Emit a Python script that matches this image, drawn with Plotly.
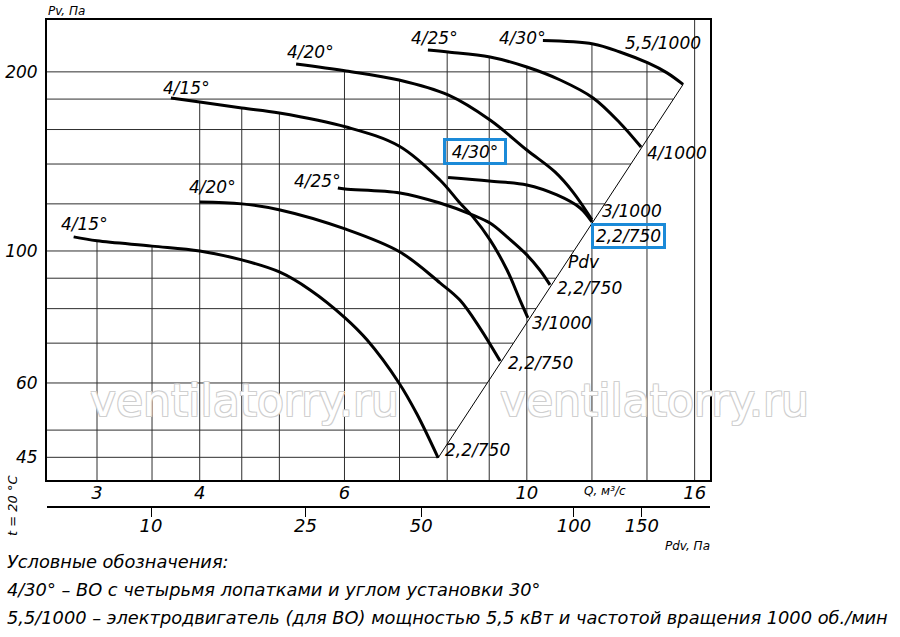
import numpy as np
import plotly.graph_objects as go

# ---------------- data ----------------
# Q, m3/s  and  Pv, Pa for each fan curve
Q_415_LO = [2.81, 3.00, 3.50, 4.00, 4.50, 5.00, 5.45, 6.01, 6.39, 6.99, 7.35, 7.80]
P_415_LO = [105.6, 104.0, 101.9, 100.0, 96.6, 92.2, 86.0, 77.2, 70.9, 60.0, 53.2, 44.9]
Q_420_LO = [4.00, 4.50, 5.01, 6.01, 7.01, 7.84, 8.29, 8.77, 9.28]
P_420_LO = [120.9, 120.0, 117.2, 108.9, 99.6, 88.4, 82.7, 74.2, 65.3]
Q_425_LO = [5.89, 6.01, 7.01, 7.84, 8.60, 9.02, 9.46, 10.00, 10.37, 10.67]
P_425_LO = [127.6, 127.1, 125.2, 120.4, 114.9, 111.4, 105.6, 98.5, 92.9, 87.7]
Q_430_LO = [8.02, 9.00, 10.00, 10.88, 11.61, 12.00]
P_430_LO = [132.9, 131.1, 129.1, 124.2, 118.1, 111.9]
Q_415_HI = [3.69, 4.00, 4.50, 5.00, 6.03, 6.99, 7.84, 8.29, 8.60, 9.02, 9.46, 9.81, 10.03]
P_415_HI = [180.8, 178.0, 173.9, 170.6, 161.6, 150.1, 131.6, 120.4, 114.1, 104.4, 92.9, 82.7, 77.2]
Q_420_HI = [5.24, 6.03, 6.99, 8.02, 9.02, 10.00, 10.82, 11.38, 12.00]
P_420_HI = [206.2, 200.7, 193.8, 182.9, 166.0, 147.8, 135.8, 125.6, 112.8]
Q_425_HI = [7.58, 8.02, 9.02, 10.00, 10.98, 12.04, 12.98, 13.77]
P_425_HI = [217.7, 216.0, 211.8, 203.8, 193.8, 180.8, 164.1, 149.5]
Q_430_HI = [10.46, 12.04, 12.98, 14.04, 14.81, 15.49]
P_430_HI = [225.8, 222.8, 216.0, 207.0, 199.2, 190.5]

BLADE_LABELS = ["4/15°", "4/20°", "4/25°", "4/30°", "4/15°", "4/20°", "4/25°", "4/30°"]
MOTOR_LABELS = ["2,2/750", "2,2/750", "2,2/750", "2,2/750", "3/1000", "3/1000", "4/1000", "5,5/1000"]

# grid values and tick labels
H_GRID = [45, 50, 60, 70, 80, 90, 100, 120, 140, 160, 180, 200]
V_GRID = [3, 3.5, 4, 4.5, 5, 6, 7, 8, 9, 10, 12, 14, 16]
Y_TICKS = [45, 60, 100, 200]
Q_TICKS = [3, 4, 6, 10, 16]
PDV_TICK_TEXT = ["10", "25", "50", "100", "150"]
PDV_TICK_Q = [3.49, 5.38, 7.44, 11.41, 13.8]   # where the Pdv ticks sit on the Q scale

# ---------------- layout constants ----------------
X_RANGE = [0.4163, 1.2228]   # log10(Q)
Y_RANGE = [1.6151, 2.3882]   # log10(Pv)
FONT = "DejaVu Sans"
BLUE = "#1b8ad8"

CURVES = [(Q_415_LO, P_415_LO), (Q_420_LO, P_420_LO), (Q_425_LO, P_425_LO), (Q_430_LO, P_430_LO),
          (Q_415_HI, P_415_HI), (Q_420_HI, P_420_HI), (Q_425_HI, P_425_HI), (Q_430_HI, P_430_HI)]

def envelope(q):
    vals = []
    for Q, P in CURVES:
        if Q[0] <= q <= Q[-1]:
            vals.append(10 ** np.interp(np.log10(q), np.log10(Q), np.log10(P)))
    return max(vals) if vals else 10 ** Y_RANGE[1]

qa, pa = Q_415_LO[-1], P_415_LO[-1]
qh, ph = Q_430_HI[-1], P_430_HI[-1]

def diag_q(p):
    t = (np.log10(p) - np.log10(pa)) / (np.log10(ph) - np.log10(pa))
    return 10 ** (np.log10(qa) + t * (np.log10(qh) - np.log10(qa)))

fig = go.Figure()

# grid: horizontal lines end at the Pdv line / top curve
gx, gy = [], []
for p in H_GRID:
    if p <= ph:
        qend = diag_q(p)
    else:
        qend = 10 ** np.interp(np.log10(p), np.log10(P_430_HI[::-1]), np.log10(Q_430_HI[::-1]))
    gx += [10 ** X_RANGE[0], qend, None]
    gy += [p, p, None]
# vertical lines end at the upper envelope of the curves
for q in V_GRID:
    gx += [q, q, None]
    gy += [10 ** Y_RANGE[0], envelope(q), None]
fig.add_trace(go.Scatter(x=gx, y=gy, mode="lines", line=dict(color="#2e2e2e", width=1),
                         hoverinfo="skip", showlegend=False))

# Pdv diagonal
fig.add_trace(go.Scatter(x=[qa, qh], y=[pa, ph], mode="lines", line=dict(color="black", width=1),
                         hoverinfo="skip", showlegend=False))

# fan curves
for Q, P in CURVES:
    fig.add_trace(go.Scatter(x=Q, y=P, mode="lines", line=dict(color="black", width=3, shape="spline", smoothing=1.0),
                             showlegend=False))

# invisible trace to carry the Pdv axis
fig.add_trace(go.Scatter(x=PDV_TICK_Q, y=[Y_TICKS[0]] * len(PDV_TICK_Q), xaxis="x2", mode="markers",
                         marker=dict(opacity=0, size=1), hoverinfo="skip", showlegend=False))

lab_font = dict(family=FONT, size=17, color="black", style="italic")

start_shift = [(11, 13), (13, 15), (-20, 7), (27, 26), (16, 10), (14, 12), (7, 12), (-20, 3)]
end_shift = [(5, 8, "left"), (6, -2, "left"), (5, -3, "left"), (-1, -14, "left"),
             (2, -5, "left"), (8, 9, "left"), (4, -6, "left"), (20, 41, "right")]
boxed_start = {3}
boxed_end = {3}

for i, (Q, P) in enumerate(CURVES):
    sx, sy = start_shift[i]
    kw = {}
    if i in boxed_start:
        kw = dict(bordercolor=BLUE, borderwidth=3, borderpad=1, width=56, height=19)
    fig.add_annotation(x=np.log10(Q[0]), y=np.log10(P[0]), text=BLADE_LABELS[i], showarrow=False,
                       xanchor="center", yanchor="middle", xshift=sx, yshift=sy, font=lab_font, **kw)
    ex, ey, anc = end_shift[i]
    kw = {}
    if i in boxed_end:
        kw = dict(bordercolor=BLUE, borderwidth=3, borderpad=1, width=67, height=18)
    fig.add_annotation(x=np.log10(Q[-1]), y=np.log10(P[-1]), text=MOTOR_LABELS[i], showarrow=False,
                       xanchor=anc, yanchor="middle", xshift=ex, yshift=ey, font=lab_font, **kw)

# Pdv label near the diagonal
fig.add_annotation(x=np.log10(11.74), y=np.log10(95.8), text="Pdv", showarrow=False,
                   font=lab_font, xanchor="center", yanchor="middle")

small = dict(family=FONT, size=12, color="black", style="italic")
fig.add_annotation(xref="paper", yref="paper", x=0.0287, y=1.0185, text="Pv, Па", showarrow=False,
                   font=small, xanchor="center", yanchor="middle")
fig.add_annotation(xref="paper", yref="paper", x=0.8416, y=0.0329, text="Q, м³/с", showarrow=False,
                   font=small, xanchor="center", yanchor="middle")
fig.add_annotation(xref="paper", yref="paper", x=0.9668, y=-0.0801, text="Pdv, Па", showarrow=False,
                   font=small, xanchor="center", yanchor="middle")
fig.add_annotation(xref="paper", yref="paper", x=-0.0528, y=0.004, text="t = 20 °C", showarrow=False,
                   font=dict(family=FONT, size=13, color="black", style="italic"), textangle=-90,
                   xanchor="center", yanchor="middle")

# watermark
wm_font = dict(family=FONT, size=44, color="white",
               shadow="1px 1px 0 #cfcfcf, -1px -1px 0 #cfcfcf, 1px -1px 0 #cfcfcf, -1px 1px 0 #cfcfcf")
for xp in [0.2986, 0.917]:
    fig.add_annotation(xref="paper", yref="paper", x=xp, y=0.2197, text="ventilatorry.ru", showarrow=False,
                       font=wm_font, xanchor="center", yanchor="middle")

# legend text
legend_lines = ["Условные обозначения:",
                "4/30° – ВО с четырьмя лопатками и углом установки 30°",
                "5,5/1000 – электродвигатель (для ВО) мощностью 5,5 кВт и частотой вращения 1000 об./мин"]
for txt, yp in zip(legend_lines, [-0.1129, -0.1704, -0.2259]):
    fig.add_annotation(xref="paper", yref="paper", x=-0.0633, y=yp, text=txt, showarrow=False,
                       font=dict(family=FONT, size=17.8, color="black", style="italic"),
                       xanchor="left", yanchor="middle")

tick_font = dict(family=FONT, size=18, color="black", style="italic")
ytick_font = dict(family=FONT, size=17, color="black", style="italic")

fig.update_layout(
    width=900, height=637,
    margin=dict(l=47, r=190, t=20, b=130, autoexpand=False),
    paper_bgcolor="white", plot_bgcolor="white",
    showlegend=False,
    xaxis=dict(type="log", range=X_RANGE, showgrid=False, zeroline=False, automargin=False,
               showline=True, linewidth=2, linecolor="black", mirror=True,
               tickvals=Q_TICKS, ticktext=[str(v) for v in Q_TICKS], ticks="",
               tickfont=tick_font, anchor="y", ticklabelstandoff=-5),
    xaxis2=dict(type="log", range=X_RANGE, overlaying="x", anchor="free", position=0, side="bottom",
                automargin=False,
                showgrid=False, zeroline=False, showline=True, linewidth=2, linecolor="black",
                tickvals=PDV_TICK_Q, ticktext=PDV_TICK_TEXT, ticks="outside", ticklen=9, tickwidth=1,
                tickcolor="black", tickfont=tick_font, ticklabelstandoff=-7),
    yaxis=dict(type="log", range=Y_RANGE, domain=[0.05544, 1], showgrid=False, zeroline=False,
               automargin=False,
               showline=True, linewidth=2, linecolor="black", mirror=True,
               tickvals=Y_TICKS, ticktext=[str(v) for v in Y_TICKS], ticks="",
               tickfont=ytick_font, ticklabelstandoff=4),
)

fig.write_html("out.html", post_script="document.body.style.margin='0';",
               config={"displayModeBar": False})
